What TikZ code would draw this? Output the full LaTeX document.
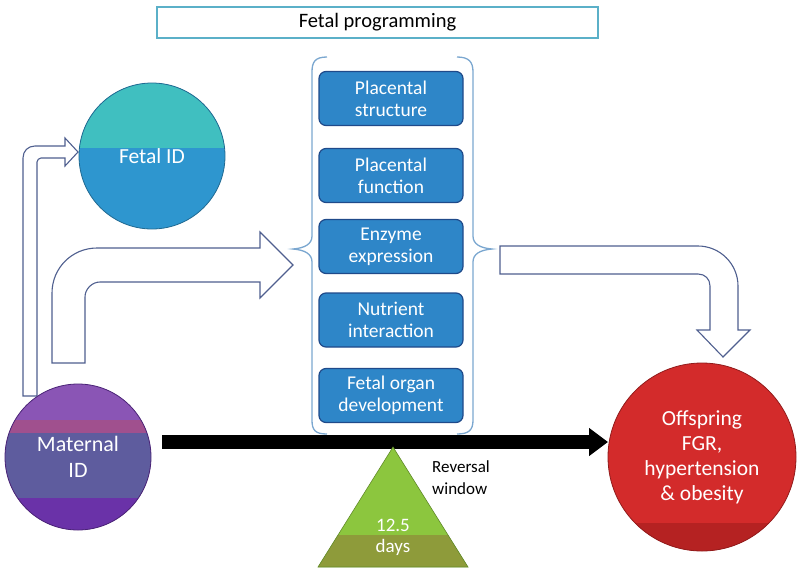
\documentclass[tikz,border=0pt]{standalone}
\usepackage{fontspec}
\setmainfont{Carlito}
\usetikzlibrary{arrows.meta}
\definecolor{boxfill}{HTML}{2E86C8}
\definecolor{boxline}{HTML}{1F4A8A}
\definecolor{bracecol}{HTML}{7BA7D0}
\definecolor{arrowline}{HTML}{4F5F8F}
\definecolor{titleline}{HTML}{5BB0C8}
\definecolor{fettop}{HTML}{40BFC0}
\definecolor{fetbot}{HTML}{2E96CF}
\definecolor{mattop}{HTML}{8A55B5}
\definecolor{matband}{HTML}{A0508E}
\definecolor{matmid}{HTML}{5E5C9E}
\definecolor{matbot}{HTML}{6A32A8}
\definecolor{offred}{HTML}{D32B2B}
\definecolor{offbot}{HTML}{B52222}
\definecolor{trigreen}{HTML}{8CC63E}
\definecolor{triolive}{HTML}{8E9B3A}
\begin{document}
\begin{tikzpicture}[x=1pt,y=-1pt,
  factorbox/.style={draw=boxline, line width=1.2pt, fill=boxfill, rounded corners=7pt,
    minimum width=144pt, minimum height=54pt, inner sep=0pt, text=white, align=center,
    font=\fontsize{19.5}{22}\selectfont},
  blockarrow/.style={draw=arrowline, line width=1.1pt, fill=white, line join=miter},
  bracestyle/.style={draw=bracecol, line width=1.3pt},
  circtext/.style={text=white, align=center},
]
\useasboundingbox (0,0) rectangle (800,576);

% title
\node[draw=titleline, line width=1.5pt, minimum width=441pt, minimum height=31pt, inner sep=0pt,
  font=\fontsize{20.5}{22}\selectfont] (title) at (377.5,22.5) {Fetal programming};

% block arrows
\draw[blockarrow] (23,396) -- (23,158) .. controls (23,151) and (28,146) .. (35,146)
  -- (65,146) -- (65,138) -- (78,152) -- (65,166) -- (65,158) -- (41,158)
  .. controls (39,158) and (37,160) .. (37,162) -- (37,396) -- cycle;
\draw[blockarrow] (52,363) -- (52,293) .. controls (52,268) and (72,248) .. (97,248)
  -- (260,248) -- (260,232) -- (293,265) -- (260,298) -- (260,282) -- (100,282)
  .. controls (92,282) and (85,289) .. (85,297) -- (85,363) -- cycle;
\draw[blockarrow] (500,246) -- (698,246) .. controls (720,246) and (738,264) .. (738,286)
  -- (738,330) -- (750,330) -- (723,357) -- (697,330) -- (710,330) -- (710,286)
  .. controls (710,279) and (705,274) .. (698,274) -- (500,274) -- cycle;

% Fetal ID circle
\begin{scope}
  \clip (152,156) circle[radius=73];
  \fill[fetbot] (70,70) rectangle (240,240);
  \fill[fettop] (70,70) rectangle (240,148);
\end{scope}
\node[circle, draw=fetbot!70!black, line width=0.8pt, minimum size=146pt, inner sep=0pt,
  circtext, font=\fontsize{21.5}{24}\selectfont] (fet) at (152,156) {Fetal ID};

% Maternal ID circle
\begin{scope}
  \clip (78,457) circle[radius=73];
  \fill[mattop] (0,380) rectangle (160,540);
  \fill[matband] (0,420) rectangle (160,433);
  \fill[matmid] (0,433) rectangle (160,498);
  \fill[matbot] (0,498) rectangle (160,540);
\end{scope}
\node[circle, draw=matbot!70!black, line width=0.8pt, minimum size=146pt, inner sep=0pt,
  circtext, font=\fontsize{22}{26}\selectfont] (mat) at (78,457) {Maternal\\ID};

% Offspring circle
\begin{scope}
  \clip (702,457) circle[radius=94];
  \fill[offred] (600,360) rectangle (800,560);
  \fill[offbot] (600,523) rectangle (800,560);
\end{scope}
\node[circle, draw=offbot!80!black, line width=0.8pt, minimum size=188pt, inner sep=0pt,
  circtext, font=\fontsize{21.5}{25}\selectfont] (off) at (702,457) {Offspring\\FGR,\\hypertension\\\& obesity};

% braces
\draw[bracestyle] (327,57) .. controls (315,57) and (312,62) .. (312,72) -- (312,236)
  .. controls (312,244) and (305,248) .. (293,249) .. controls (305,250) and (312,254) .. (312,262)
  -- (312,420) .. controls (312,430) and (315,434) .. (327,434);
\draw[bracestyle] (457,57) .. controls (469,57) and (473,62) .. (473,72) -- (473,236)
  .. controls (473,244) and (480,248) .. (492,249) .. controls (480,250) and (473,254) .. (473,262)
  -- (473,420) .. controls (473,430) and (469,434) .. (457,434);

% factor boxes
\node[factorbox] (b1) at (391,98.5) {Placental\\structure};
\node[factorbox] (b2) at (391,175.5) {Placental\\function};
\node[factorbox] (b3) at (391,246.5) {Enzyme\\expression};
\node[factorbox] (b4) at (391,320) {Nutrient\\interaction};
\node[factorbox] (b5) at (391,395.5) {Fetal organ\\development};

% black timeline arrow
\coordinate (bs) at (162,442);
\coordinate (be) at (608,442);
\draw[line width=14pt, -{Triangle[length=19pt,width=27pt]}] (bs) -- (be);

% triangle
\begin{scope}
  \clip (393,447) -- (468,567) -- (318,567) -- cycle;
  \fill[trigreen] (310,440) rectangle (475,570);
  \fill[triolive] (310,535) rectangle (475,570);
\end{scope}
\draw[trigreen!70!black, line width=0.6pt] (393,447) -- (468,567) -- (318,567) -- cycle;
\node[text=white, align=center, font=\fontsize{19}{21}\selectfont] (days) at (393,537) {12.5\\days};

% reversal window
\node[anchor=north west, align=left, font=\fontsize{17}{22}\selectfont, inner sep=0pt] (rev) at (432,460) {Reversal\\window};
\end{tikzpicture}
\end{document}
